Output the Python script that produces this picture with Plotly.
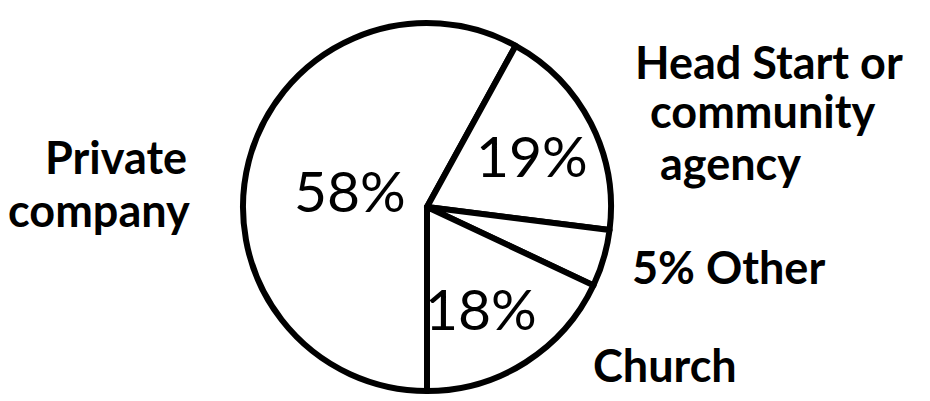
import plotly.graph_objects as go

# Data
categories = ["Private company", "Head Start or community agency", "Other", "Church"]
shares = [58, 19, 5, 18]
inside_labels = ["58%", "19%", "", "18%"]

W, H = 930, 401

def px(x):
    return x / W

def py(y):
    return 1 - y / H

cx, cy, r = 427, 207, 184

fig = go.Figure(go.Pie(
    labels=categories,
    values=shares,
    sort=False,
    direction="clockwise",
    rotation=180,
    textinfo="none",
    hoverinfo="label+percent",
    marker=dict(colors=["white"] * 4, line=dict(color="black", width=6)),
    domain=dict(x=[px(cx - r), px(cx + r)], y=[py(cy + r), py(cy - r)]),
    showlegend=False,
))

label_font = dict(family="Lato, Open Sans, sans-serif", size=45, color="black", weight="bold")
num_font = dict(family="Lato, Open Sans, sans-serif", size=57, color="black")

annots = [
    ("Private", 116, 157, label_font),
    ("company", 99, 210, label_font),
    ("Head Start or", 769, 62, label_font),
    ("community", 762, 111, label_font),
    ("agency", 730, 163, label_font),
    ("5% Other", 728, 267, label_font),
    ("Church", 665, 365, label_font),
    (inside_labels[0], 350, 190, num_font),
    (inside_labels[1], 532, 155, num_font),
    (inside_labels[3], 481, 308, num_font),
]

for text, x, y, f in annots:
    fig.add_annotation(text=text, x=px(x), y=py(y), xref="paper", yref="paper",
                       xanchor="center", yanchor="middle", showarrow=False, font=f)

fig.update_layout(width=W, height=H, margin=dict(l=0, r=0, t=0, b=0),
                  paper_bgcolor="white", plot_bgcolor="white")

fig.write_html("out.html", config={"displayModeBar": False},
               post_script="document.body.style.margin='0';")
